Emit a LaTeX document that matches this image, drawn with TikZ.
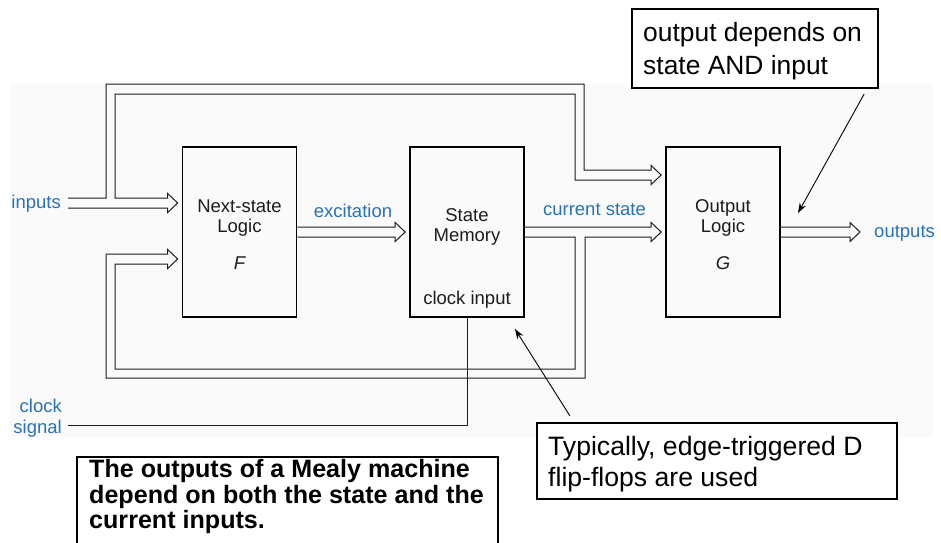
\documentclass[tikz,border=0pt]{standalone}
\usepackage{fontspec}
\setmainfont{Liberation Sans}
\usetikzlibrary{calc,arrows.meta}
\definecolor{sigblue}{RGB}{40,114,186}
\definecolor{panel}{RGB}{250,250,250}
\definecolor{ink}{RGB}{28,28,28}
\tikzset{
  block/.style={draw=black, line width=1.7pt, minimum width=114pt, minimum height=170pt, inner sep=0pt},
  blocktext/.style={text=ink, font=\fontsize{18.5}{20}\selectfont, align=center, inner sep=0pt},
  siglabel/.style={text=sigblue, font=\fontsize{18.5}{20}\selectfont, inner sep=0pt},
  pipe/.style={draw=ink, line width=1pt, line join=miter},
  wire/.style={draw=ink, line width=1pt},
  noteframe/.style={draw=black, line width=2.2pt, fill=white, inner sep=0pt},
  noteline/.style={anchor=base west, inner sep=0pt, text=black, font=\fontsize{26.4}{30}\selectfont},
  boldline/.style={anchor=base west, inner sep=0pt, text=black, font=\bfseries\fontsize{25.1}{25}\selectfont},
  pointer/.style={draw=black, line width=0.9pt, -{Stealth[length=10pt,width=7pt]}},
  widehead/.style={insert path={-- ($(#1)+(-10,-5)$) -- ($(#1)+(-10,-9.5)$) -- (#1)
    -- ($(#1)+(-10,9.5)$) -- ($(#1)+(-10,5)$)}},
}
\begin{document}
\begin{tikzpicture}[x=1pt,y=-1pt]
\path[use as bounding box] (0,0) rectangle (941,542);
\clip (0,0) rectangle (941,542);

% light panel behind the block diagram
\fill[panel] (10,84) rectangle (933,437);

% the three blocks
\node[block] (ns) at (239.5,232) {};
\node[block] (sm) at (467,232) {};
\node[block] (ol) at (723,232) {};

% tips of the wide arrows, a little short of the blocks
\coordinate (exTip)  at ($(sm.west)+(-4,0)$);
\coordinate (csTip)  at ($(ol.west)+(-4,0)$);
\coordinate (inTip)  at ($(ns.west)+(-4,-29)$);
\coordinate (fbTip)  at ($(ns.west)+(-4,27)$);
\coordinate (brTip)  at ($(ol.west)+(-4,-57)$);
\coordinate (outTip) at (860,232);
\coordinate (inSrc)  at (68,203);
\coordinate (clkSrc) at (68,425);

% inputs: into F, with a branch over the top into G
\draw[pipe] ($(inSrc)+(0,-5)$) -- (106,198) -- (106,84) -- (584,84) -- (584,170)
  [widehead=brTip] -- (575,180) -- (575,94) -- (115,94) -- (115,198)
  [widehead=inTip] -- ($(inSrc)+(0,5)$);

% excitation: F to state memory
\draw[pipe] ($(ns.east)+(0,-5)$) [widehead=exTip] -- ($(ns.east)+(0,5)$);

% current state: to G, and fed back round the bottom into F
\draw[pipe] ($(sm.east)+(0,-5)$) [widehead=csTip] -- (585,237) -- (585,378) -- (106,378)
  -- (106,254) [widehead=fbTip] -- (115,264) -- (115,369) -- (575,369) -- (575,237)
  -- ($(sm.east)+(0,5)$);

% outputs
\draw[pipe] ($(ol.east)+(0,-5)$) [widehead=outTip] -- ($(ol.east)+(0,5)$);

% clock line
\draw[wire] (clkSrc) -- (clkSrc -| sm.south) -- (sm.south);

% redraw block borders on top
\node[block] at (ns) {};
\node[block] at (sm) {};
\node[block] at (ol) {};

% block texts
\node[blocktext] (nsname) at (239.5,218) {Next-state\\Logic};
\node[blocktext, font=\fontsize{18.5}{20}\selectfont\itshape] (nsfn) at (239.5,263) {F};
\node[blocktext] (smname) at (467,227) {State\\Memory};
\node[blocktext] (clkin) at (467,300) {clock input};
\node[blocktext] (olname) at (723,218) {Output\\Logic};
\node[blocktext, font=\fontsize{18.5}{20}\selectfont\itshape] (olfn) at (723,263) {G};

% signal labels
\node[siglabel, anchor=east] (inlabel) at (61,204) {inputs};
\node[siglabel] (exlabel) at (353,211) {excitation};
\node[siglabel] (cslabel) at (594.5,210) {current state};
\node[siglabel, anchor=west] (outlabel) at (874,233) {outputs};
\node[siglabel, anchor=east, align=right, font=\fontsize{18.5}{21}\selectfont] (clklabel) at (62,418) {clock\\signal};

% callouts
\node[noteframe, minimum width=246pt, minimum height=79pt] (stateNote) at (755,48.5) {};
\node[noteline] (stateNoteA) at (643,41) {output depends on};
\node[noteline] (stateNoteB) at (643,74) {state AND input};

\node[noteframe, minimum width=360pt, minimum height=76pt] (ffNote) at (717,461) {};
\node[noteline, font=\fontsize{26.6}{30}\selectfont] (ffNoteA) at (548,455) {Typically, edge-triggered D};
\node[noteline, font=\fontsize{26.6}{30}\selectfont] (ffNoteB) at (548,486) {flip-flops are used};

\draw[pointer] ($(stateNote.south east)+(-15,5)$) -- (798,213);
\draw[pointer] ($(ffNote.north west)+(34,-6)$) -- (515,329);

% summary box, running off the bottom edge
\draw[line width=1.2pt, fill=white] (77,560) -- (77,457) -- (498,457) -- (498,560);
\node[boldline] (mealyA) at (89,477) {The outputs of a Mealy machine};
\node[boldline] (mealyB) at (89,503) {depend on both the state and the};
\node[boldline] (mealyC) at (89,528) {current inputs.};
\end{tikzpicture}
\end{document}
